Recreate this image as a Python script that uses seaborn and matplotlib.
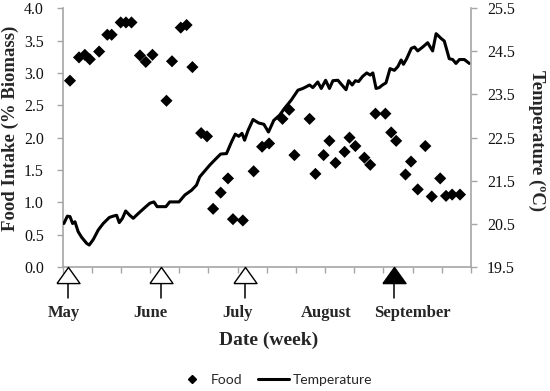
import pandas as pd
import matplotlib
matplotlib.use('Agg')
import matplotlib.pyplot as plt
from matplotlib.lines import Line2D
import seaborn as sns
import numpy as np

# food intake (% biomass), x = days since start of May
food_day = [2.5, 5.6, 7.6, 9.3, 12.5, 15.3, 16.8, 19.9, 21.7, 23.6, 26.5, 28.5, 30.8, 35.6,
            37.5, 40.5, 42.5, 44.5, 47.5, 49.5, 51.6, 54.2, 56.7, 58.4, 61.8, 65.5, 68.4, 70.8,
            75.4, 77.7, 79.5, 84.7, 86.7, 89.5, 91.5, 93.6, 96.7, 98.4, 100.4, 103.5, 105.5,
            107.3, 110.7, 112.7, 114.4, 117.6, 119.5, 121.8, 124.4, 126.6, 129.5, 131.5, 133.6, 136.3]
food = [2.88, 3.24, 3.28, 3.21, 3.33, 3.59, 3.59, 3.78, 3.78, 3.78, 3.27, 3.17, 3.28, 2.57,
        3.18, 3.70, 3.74, 3.09, 2.07, 2.02, 0.90, 1.15, 1.37, 0.74, 0.72, 1.48, 1.86, 1.91,
        2.29, 2.43, 1.73, 2.29, 1.44, 1.73, 1.95, 1.61, 1.78, 2.00, 1.87, 1.69, 1.58,
        2.37, 2.37, 2.08, 1.95, 1.43, 1.63, 1.20, 1.87, 1.09, 1.37, 1.10, 1.12, 1.12]

# water temperature (deg C)
temp_day = [0.4, 1.6, 2.5, 3.4, 4.2, 5.3, 6.5, 8.2, 9.1, 10.5, 12.2, 13.9, 16.0, 17.3, 18.5,
            19.4, 20.5, 21.6, 23.0, 24.2, 25.9, 28.2, 29.9, 31.3, 32.4, 35.4, 36.7, 39.9, 41.9,
            44.2, 45.9, 47.0, 50.4, 52.7, 54.2, 56.2, 57.9, 59.2, 60.4, 61.5, 62.4, 63.6, 65.3,
            67.2, 69.0, 70.6, 72.4, 74.4, 76.1, 78.4, 80.7, 82.4, 84.7, 85.8, 87.5, 88.7, 90.2,
            91.5, 92.7, 94.4, 95.8, 97.2, 98.1, 99.3, 100.4, 101.5, 102.9, 104.3, 105.5, 106.4,
            107.5, 108.6, 109.7, 110.9, 112.3, 113.8, 115.0, 116.1, 116.9, 118.0, 119.6, 120.7,
            121.8, 123.5, 125.2, 126.9, 128.1, 129.8, 130.9, 132.6, 133.8, 134.9, 136.1, 137.8, 139.5]
temp = [20.51, 20.68, 20.67, 20.51, 20.55, 20.32, 20.19, 20.05, 20.01, 20.14, 20.36, 20.51, 20.65,
        20.68, 20.70, 20.53, 20.63, 20.80, 20.70, 20.63, 20.74, 20.88, 20.98, 21.01, 20.90, 20.90,
        21.01, 21.01, 21.17, 21.28, 21.40, 21.59, 21.86, 22.02, 22.12, 22.13, 22.40, 22.58, 22.53,
        22.60, 22.44, 22.67, 22.92, 22.84, 22.81, 22.63, 22.90, 23.02, 23.18, 23.37, 23.60, 23.64,
        23.72, 23.66, 23.79, 23.64, 23.83, 23.64, 23.82, 23.83, 23.72, 23.61, 23.82, 23.72, 23.82,
        23.80, 23.92, 24.00, 23.95, 24.00, 23.64, 23.66, 23.72, 23.77, 24.10, 24.06, 24.15, 24.30,
        24.20, 24.33, 24.57, 24.60, 24.51, 24.60, 24.70, 24.51, 24.91, 24.80, 24.74, 24.33, 24.31,
        24.22, 24.31, 24.31, 24.22]

month_names = ['May', 'June', 'July', 'August', 'September']
month_day = [0.4, 30, 60, 90.5, 120]
event_day = [1.8, 33.6, 62.4, 113.8]
event_filled = [False, False, False, True]

df_food = pd.DataFrame({'day': food_day, 'food': food})
df_temp = pd.DataFrame({'day': temp_day, 'temp': temp})

sns.set_theme(style='white')
plt.rcParams['font.family'] = ['Liberation Serif', 'DejaVu Serif']
grey = '#a6a6a6'

fig = plt.figure(figsize=(5.5, 3.91), dpi=100)
ax = fig.add_axes([0.114, 0.317, 0.742, 0.662])
ax2 = ax.twinx()

sns.scatterplot(data=df_food, x='day', y='food', ax=ax, marker='D', s=38,
                color='black', edgecolor='none', zorder=3)
sns.lineplot(data=df_temp, x='day', y='temp', ax=ax2, color='black', lw=2.2)

ax.set_xlim(0, 140)
ax.set_ylim(0, 4)
ax2.set_ylim(19.5, 25.5)
ax.set_xticks(np.arange(0, 141, 10))
ax.set_xticklabels([])
ax.set_yticks(np.arange(0, 4.01, 0.5))
ax.set_yticklabels([f'{v:.1f}' for v in np.arange(0, 4.01, 0.5)])
ax2.set_yticks(np.arange(19.5, 25.51, 1.0))
ax2.set_yticklabels([f'{v:.1f}' for v in np.arange(19.5, 25.51, 1.0)])

for s in ['top', 'right']:
    ax.spines[s].set_visible(False)
for s in ['top', 'left', 'bottom']:
    ax2.spines[s].set_visible(False)
for s in ['left', 'bottom']:
    ax.spines[s].set_color(grey)
    ax.spines[s].set_linewidth(1.2)
ax2.spines['right'].set_color(grey)
ax2.spines['right'].set_linewidth(1.2)

ax.tick_params(axis='y', direction='out', length=4.5, width=1, color=grey, pad=9,
               labelsize=11.5, labelcolor='#111111', left=True)
ax.tick_params(axis='x', direction='out', length=4, width=1, color=grey, bottom=True)
ax2.tick_params(axis='y', direction='out', length=4.5, width=1, color=grey, pad=7,
                labelsize=11.5, labelcolor='#111111', right=True)

ax.set_xlabel('')
ax.set_ylabel('Food Intake (% Biomass)', fontsize=13.5, fontweight='bold', va='center')
ax.yaxis.set_label_coords(-0.128, 0.537)
ax2.set_ylabel('Temperature (ºC)', fontsize=13.5, fontweight='bold', rotation=270, va='center')
ax2.yaxis.set_label_coords(1.162, 0.487)

# month arrows under the axis
xt = ax.get_xaxis_transform()
tri = [(-1, -0.7), (1, -0.7), (0, 0.7), (-1, -0.7)]
for d, filled in zip(event_day, event_filled):
    ax.plot([d, d], [-0.062, -0.12], transform=xt, color='black', lw=1.1, clip_on=False)
    ax.plot([d], [-0.031], transform=xt, marker=tri, markersize=16.6, ls='none',
            markerfacecolor='black' if filled else 'white', markeredgecolor='black',
            markeredgewidth=1.0, clip_on=False, zorder=4)

for name, d in zip(month_names, month_day):
    ax.text(d, -0.178, name, transform=xt, ha='center', va='center',
            fontsize=12, fontweight='bold')
ax.text(0.504, -0.282, 'Date (week)', transform=ax.transAxes, ha='center', va='center',
        fontsize=14, fontweight='bold')

for a in (ax, ax2):
    if a.get_legend() is not None:
        a.get_legend().remove()

handles = [Line2D([], [], marker='D', ls='none', color='black', markersize=4.5),
           Line2D([], [], color='black', lw=2.2)]
fig.legend(handles, ['Food', 'Temperature'], loc='center', bbox_to_anchor=(0.499, 0.028),
           ncol=2, frameon=False, prop={'family': 'Lato', 'size': 10},
           handlelength=2.2, handletextpad=0.25, columnspacing=1.15)

fig.savefig('out.png', dpi=100)
